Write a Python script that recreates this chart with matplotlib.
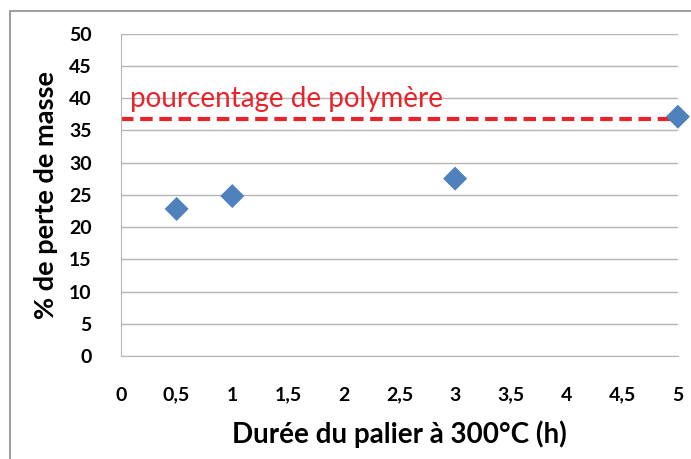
import matplotlib.pyplot as plt
from matplotlib.patches import Rectangle

# data
duree_h = [0.5, 1, 3, 5]
perte_pct = [22.8, 24.8, 27.5, 37.1]
polymere_pct = 36.8

x_ticks = [0, 0.5, 1, 1.5, 2, 2.5, 3, 3.5, 4, 4.5, 5]
y_ticks = [0, 5, 10, 15, 20, 25, 30, 35, 40, 45, 50]

plt.rcParams['font.family'] = ['Lato', 'DejaVu Sans']

fig = plt.figure(figsize=(6.91, 4.59), dpi=100)
ax = fig.add_axes([0.175, 0.2244, 0.806, 0.7026])

# chart frame (only left/top visible in the crop)
fig.patches.append(Rectangle((10 / 691, -0.1), 1.2, 1 - 11 / 459 + 0.1,
                             transform=fig.transFigure, fill=False,
                             edgecolor="#8c8c8c", lw=1.2))

ax.axhline(polymere_pct, color="#e8232a", ls=(0, (3, 1.6)), lw=3,
           zorder=2)
ax.scatter(duree_h, perte_pct, marker="D", s=150, color="#4f81bd",
           edgecolor="none", zorder=3, clip_on=False)
ax.text(0.08, 37.9, "pourcentage de polymère", color="#e8232a",
        fontsize=20, va="bottom", ha="left")

ax.set_xlim(0, 5)
ax.set_ylim(0, 50)
ax.set_xticks(x_ticks)
ax.set_yticks(y_ticks)
ax.set_xticklabels([f"{t:g}".replace(".", ",") for t in x_ticks])
ax.set_yticklabels([str(t) for t in y_ticks])
ax.tick_params(length=0, labelsize=14)
ax.tick_params(axis="x", pad=22)
ax.tick_params(axis="y", pad=21)
for lab in ax.get_xticklabels() + ax.get_yticklabels():
    lab.set_fontweight("bold")
ax.grid(axis="y", color="#b5b5b5", lw=1)
ax.set_axisbelow(True)
for s in ["top", "right"]:
    ax.spines[s].set_visible(False)
for s in ["left", "bottom"]:
    ax.spines[s].set_color("#b5b5b5")

ax.set_xlabel("Durée du palier à 300°C (h)", fontsize=20,
              fontweight="bold", labelpad=12)
ax.set_ylabel("% de perte de masse", fontsize=19.5, fontweight="bold",
              labelpad=8)

fig.savefig("out.png", dpi=100)
